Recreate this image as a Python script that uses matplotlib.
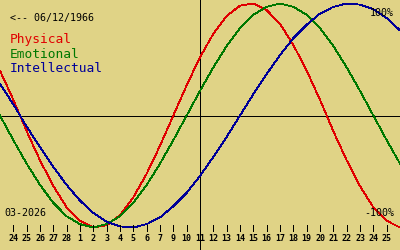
import matplotlib
matplotlib.use('Agg')
import matplotlib.pyplot as plt

# day offsets relative to the centre line (11 March)
days = list(range(-15, 16))
physical = [0.40, 0.14, -0.14, -0.40, -0.63, -0.82, -0.94, -1.00, -0.98, -0.89, -0.73, -0.52, -0.27, 0.00,
            0.27, 0.52, 0.73, 0.89, 0.98, 1.00, 0.94, 0.82, 0.63, 0.40, 0.14, -0.14, -0.40, -0.63, -0.82,
            -0.94, -1.00]
emotional = [0.00, -0.22, -0.43, -0.62, -0.78, -0.90, -0.97, -1.00, -0.97, -0.90, -0.78, -0.62, -0.43, -0.22,
             0.00, 0.22, 0.43, 0.62, 0.78, 0.90, 0.97, 1.00, 0.97, 0.90, 0.78, 0.62, 0.43, 0.22, 0.00,
             -0.22, -0.43]
intellectual = [0.28, 0.10, -0.10, -0.28, -0.46, -0.62, -0.76, -0.87, -0.95, -0.99, -1.00, -0.97, -0.91, -0.81,
                -0.69, -0.54, -0.37, -0.19, 0.00, 0.19, 0.37, 0.54, 0.69, 0.81, 0.91, 0.97, 1.00, 0.99, 0.95,
                0.87, 0.76]
tick_days = list(range(-14, 15))
tick_labels = ['24', '25', '26', '27', '28', '1', '2', '3', '4', '5', '6', '7', '9', '10', '11', '12', '13',
               '14', '15', '16', '17', '18', '19', '20', '21', '22', '23', '24', '25']
series_names = ['Physical', 'Emotional', 'Intellectual']
birth_label = '<-- 06/12/1966'
month_label = '03-2026'

BG = '#E0D386'
RED = '#E00000'
GREEN = '#007800'
BLUE = '#000098'

W, H = 400, 250
fig = plt.figure(figsize=(4, 2.5), dpi=100, facecolor=BG)
ax = fig.add_axes([0, 0, 1, 1])
ax.set_facecolor(BG)
ax.set_xlim(-15, 15)
ax.set_ylim((115.5 - 250) / 112, 115.5 / 112)
ax.axis('off')

ax.axvline(0, color='black', lw=0.6, antialiased=False)
ax.axhline(0, color='black', lw=0.6, antialiased=False)

for vals, c in zip([physical, emotional, intellectual], [RED, GREEN, BLUE]):
    ax.plot(days, vals, color=c, lw=0.6, antialiased=False)

tr = ax.get_xaxis_transform()
for d in tick_days:
    ax.axvline(d, ymin=1 - 231 / H, ymax=1 - 225 / H, color='black', lw=0.72,
               antialiased=True, snap=True)
for d, lab in zip(tick_days, tick_labels):
    ax.text(d, 1 - 241 / H, lab, transform=tr, ha='center', va='baseline',
            fontsize=6.0, fontweight='bold', family='DejaVu Sans Mono', color='black')


def ftext(xp, yp, s, **kw):
    fig.text(xp / W, 1 - yp / H, s, va='baseline', family='DejaVu Sans Mono', **kw)


ftext(10, 20.5, birth_label, fontsize=7.2, color='black')
for name, c, yb in zip(series_names, [RED, GREEN, BLUE], [43, 57.5, 72.5]):
    ftext(10, yb, name, fontsize=9.3, color=c)
ftext(394, 16, '100%', fontsize=7.2, color='black', ha='right')
ftext(394, 216, '-100%', fontsize=7.2, color='black', ha='right')
ftext(4, 216, month_label, fontsize=7.2, color='black')

fig.savefig('out.png', dpi=100, facecolor=BG)
